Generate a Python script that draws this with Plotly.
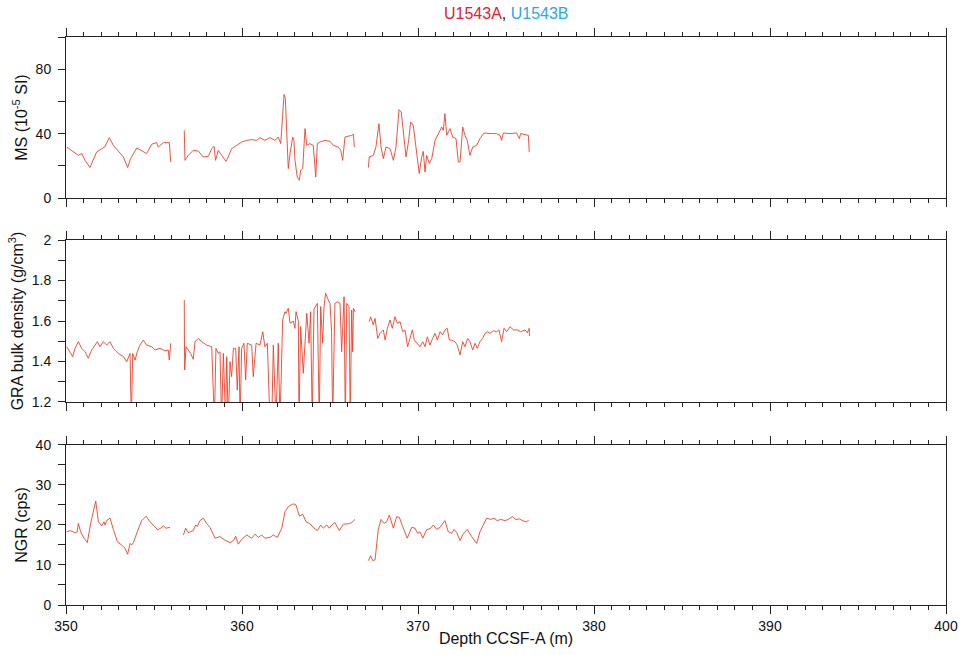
import plotly.graph_objects as go

# ---------------- data (depth in m CCSF-A) ----------------
ms_depth = [350.04, 350.41, 350.7, 350.9, 351.08, 351.36, 351.55, 351.74, 352.03, 352.2, 352.46, 352.69,
            352.97, 353.26, 353.5, 353.67, 354.02, 354.3, 354.58, 354.87, 355.15, 355.24, 355.53, 355.87, 355.95,
            None,
            356.72, 356.76, 356.95, 357.23, 357.52, 357.8, 358.09, 358.28, 358.41, 358.5, 358.65, 358.9, 359.09,
            359.22, 359.41, 359.7, 359.98, 360.27, 360.55, 360.84, 361.02, 361.3, 361.59, 361.88, 362.06, 362.2,
            362.31, 362.39, 362.46, 362.54, 362.63, 362.73, 362.88, 362.95, 363.01, 363.14, 363.26, 363.33,
            363.45, 363.52, 363.58, 363.68, 363.86, 364.05, 364.19, 364.28, 364.43, 364.72, 365.0, 365.19,
            365.47, 365.61, 365.72, 365.85, 366.04, 366.23, 366.33, 366.38,
            None,
            367.18, 367.23, 367.46, 367.61, 367.78, 367.9, 368.03, 368.18, 368.41, 368.6, 368.75, 368.92, 369.05,
            369.17, 369.32, 369.47, 369.58, 369.73, 369.89, 370.07, 370.21, 370.3, 370.4, 370.49, 370.64, 370.78,
            370.97, 371.15, 371.35, 371.44, 371.53, 371.63, 371.82, 371.97, 372.16, 372.29, 372.39, 372.54,
            372.67, 372.8, 372.95, 373.11, 373.33, 373.52, 373.75, 374.09, 374.47, 374.66, 374.75, 374.85,
            375.23, 375.6, 375.76, 375.83, 376.08, 376.27, 376.32]
ms_value = [31.7, 28.6, 26.5, 27.6, 23.4, 18.9, 23.4, 28.6, 30.7, 31.7, 37.5, 32.7,
            29.2, 25.5, 18.9, 24.5, 31.1, 29.6, 27.6, 33.4, 34.4, 31.7, 34.4, 34.4, 22.4,
            None,
            42.0, 23.4, 26.5, 29.6, 29.2, 25.5, 25.9, 30.7, 32.1, 23.4, 29.6, 25.9, 22.8,
            25.5, 30.7, 32.7, 34.8, 35.8, 36.3, 35.8, 37.5, 35.8, 37.5, 35.8, 37.9, 33.8,
            54.5, 64.4, 62.0, 45.0, 18.3, 27.6, 37.9, 35.8, 23.4, 13.0, 11.0, 17.2,
            18.3, 31.7, 43.1, 32.7, 33.8, 32.7, 13.0, 33.8, 34.8, 35.8, 35.2, 32.7,
            31.7, 29.6, 23.4, 37.9, 38.3, 38.9, 39.6, 31.7,
            None,
            18.9, 25.5, 26.5, 31.7, 46.2, 31.7, 24.5, 31.7, 30.7, 23.4, 31.7, 54.9, 53.4,
            40.0, 25.5, 35.8, 47.2, 45.2, 29.6, 15.2, 25.5, 29.0, 16.1, 26.5, 21.4, 24.5,
            35.8, 40.0, 44.1, 42.0, 52.4, 38.9, 43.1, 37.9, 36.9, 22.4, 22.4, 44.1,
            38.9, 35.8, 26.5, 31.7, 32.7, 36.9, 40.4, 40.0, 40.0, 38.9, 35.8, 40.4,
            40.0, 40.4, 36.9, 40.0, 39.6, 38.9, 28.6]

gra_depth = [350.04, 350.23, 350.38, 350.51, 350.7, 350.89, 351.08, 351.27, 351.46, 351.65, 351.78, 351.93,
             352.12, 352.31, 352.5, 352.69, 352.97, 353.26, 353.45, 353.64, 353.71, 353.79, 353.92, 354.05,
             354.2, 354.39, 354.58, 354.87, 355.06, 355.34, 355.63, 355.81, 355.87, 355.95,
             None,
             356.72, 356.74, 356.82, 356.95, 357.08, 357.23, 357.33, 357.52, 357.71, 357.99, 358.28, 358.43,
             358.52, 358.65, 358.75, 358.84, 358.94, 359.07, 359.13, 359.22, 359.32, 359.41, 359.51, 359.64,
             359.73, 359.83, 359.89, 359.98, 360.11, 360.21, 360.3, 360.55, 360.64, 360.8, 361.02, 361.18,
             361.3, 361.44, 361.59, 361.69, 361.78, 361.93, 362.06, 362.16, 362.26, 362.31, 362.44, 362.5,
             362.63, 362.73, 362.91, 363.01, 363.07, 363.2, 363.24, 363.33, 363.48, 363.58, 363.68, 363.81,
             363.9, 363.99, 364.09, 364.28, 364.39, 364.47, 364.58, 364.66, 364.75, 364.9, 365.0, 365.09,
             365.15, 365.28, 365.42, 365.57, 365.66, 365.8, 365.87, 365.95, 366.08, 366.15, 366.23, 366.29,
             366.33, 366.42,
             None,
             367.23, 367.31, 367.46, 367.56, 367.71, 367.84, 368.03, 368.13, 368.26, 368.41, 368.54, 368.69,
             368.83, 368.98, 369.13, 369.26, 369.41, 369.55, 369.68, 369.79, 369.96, 370.11, 370.27, 370.4,
             370.53, 370.68, 370.83, 370.97, 371.1, 371.25, 371.4, 371.53, 371.66, 371.78, 371.91, 372.1,
             372.23, 372.39, 372.54, 372.67, 372.82, 372.95, 373.11, 373.24, 373.37, 373.52, 373.67, 373.81,
             373.94, 374.09, 374.28, 374.47, 374.6, 374.75, 374.89, 375.04, 375.23, 375.42, 375.65, 375.83,
             376.08, 376.21, 376.32, 376.33]
gra_value = [1.473, 1.448, 1.424, 1.465, 1.498, 1.465, 1.448, 1.416, 1.457, 1.481, 1.498, 1.473,
             1.498, 1.481, 1.498, 1.465, 1.44, 1.424, 1.399, 1.44, 1.1, 1.44, 1.407, 1.448,
             1.481, 1.506, 1.481, 1.473, 1.457, 1.465, 1.452, 1.457, 1.407, 1.49,
             None,
             1.704, 1.358, 1.473, 1.457, 1.44, 1.411, 1.498, 1.514, 1.498, 1.481, 1.473, 1.1,
             1.465, 1.44, 1.448, 1.1, 1.44, 1.1, 1.424, 1.1, 1.399, 1.325, 1.465, 1.465,
             1.259, 1.473, 1.1, 1.465, 1.49, 1.309, 1.49, 1.481, 1.325, 1.49, 1.481, 1.547,
             1.473, 1.49, 1.1, 1.1, 1.481, 1.1, 1.49, 1.1, 1.49, 1.605, 1.646, 1.638,
             1.663, 1.589, 1.6, 1.564, 1.646, 1.6, 1.1, 1.572, 1.342, 1.473, 1.638, 1.49,
             1.646, 1.1, 1.658, 1.687, 1.1, 1.671, 1.49, 1.671, 1.737, 1.704, 1.687, 1.547,
             1.1, 1.687, 1.695, 1.687, 1.448, 1.72, 1.1, 1.687, 1.671, 1.1, 1.654, 1.448,
             1.663, 1.646,
             None,
             1.597, 1.621, 1.58, 1.613, 1.514, 1.539, 1.556, 1.506, 1.564, 1.605, 1.564, 1.621,
             1.589, 1.597, 1.547, 1.556, 1.473, 1.514, 1.556, 1.506, 1.49, 1.473, 1.498, 1.473,
             1.522, 1.481, 1.514, 1.539, 1.506, 1.547, 1.531, 1.556, 1.564, 1.506, 1.506, 1.498,
             1.481, 1.432, 1.498, 1.473, 1.514, 1.498, 1.457, 1.49, 1.465, 1.498, 1.514, 1.539,
             1.547, 1.539, 1.552, 1.547, 1.556, 1.498, 1.564, 1.547, 1.572, 1.556, 1.556, 1.547,
             1.556, 1.542, 1.564, 1.526]

ngr_depth = [350.04, 350.23, 350.51, 350.64, 350.7, 350.83, 351.02, 351.21, 351.4, 351.55, 351.69, 351.84,
             352.03, 352.16, 352.22, 352.31, 352.5, 352.69, 352.92, 353.16, 353.35, 353.5, 353.64, 353.73,
             353.83, 354.05, 354.3, 354.55, 354.77, 355.0, 355.21, 355.38, 355.53, 355.68, 355.91,
             None,
             356.67, 356.8, 356.95, 357.23, 357.37, 357.46, 357.61, 357.8, 357.99, 358.18, 358.47, 358.75,
             359.03, 359.32, 359.51, 359.64, 359.79, 359.98, 360.27, 360.55, 360.74, 360.93, 361.12, 361.3,
             361.59, 361.78, 362.01, 362.26, 362.44, 362.63, 362.91, 363.07, 363.26, 363.45, 363.64, 363.86,
             364.05, 364.28, 364.47, 364.62, 364.81, 364.96, 365.1, 365.28, 365.53, 365.76, 366.04, 366.23,
             366.42,
             None,
             367.18, 367.31, 367.43, 367.56, 367.74, 367.9, 368.07, 368.22, 368.37, 368.6, 368.79, 368.94,
             369.13, 369.39, 369.64, 369.83, 369.98, 370.11, 370.27, 370.49, 370.72, 370.87, 371.06, 371.25,
             371.53, 371.72, 371.91, 372.05, 372.2, 372.39, 372.58, 372.8, 373.05, 373.33, 373.52, 373.75,
             373.9, 374.13, 374.32, 374.5, 374.7, 374.94, 375.13, 375.36, 375.55, 375.76, 375.98, 376.17,
             376.29]
ngr_value = [18.3, 18.6, 18.1, 18.3, 20.4, 18.3, 16.7, 15.6, 20.4, 23.8, 26.0, 20.8,
             19.8, 20.8, 20.0, 21.1, 21.7, 18.9, 15.8, 15.0, 14.2, 12.7, 15.4, 15.0,
             15.6, 18.3, 21.1, 22.2, 20.8, 19.8, 18.8, 19.2, 19.8, 19.2, 19.4,
             None,
             17.5, 19.2, 18.1, 18.6, 20.0, 19.6, 21.1, 21.7, 20.4, 19.4, 16.7, 17.1,
             16.2, 15.6, 16.1, 17.2, 15.2, 16.4, 17.5, 16.7, 17.7, 16.9, 17.5, 16.7,
             16.9, 17.5, 16.9, 19.2, 23.3, 24.6, 25.3, 25.0, 22.2, 22.7, 20.8, 20.3,
             19.4, 18.6, 20.0, 19.2, 20.0, 19.2, 20.0, 20.6, 18.6, 20.2, 20.3, 20.6,
             21.4,
             None,
             11.1, 12.3, 11.1, 11.3, 18.8, 21.4, 20.4, 20.8, 22.5, 19.2, 22.1, 21.9,
             19.6, 16.7, 19.4, 19.2, 17.9, 18.3, 16.7, 18.8, 19.2, 20.0, 18.9, 19.4,
             21.1, 18.3, 17.9, 18.9, 18.1, 16.1, 17.9, 18.9, 17.1, 15.4, 18.3, 20.4,
             21.7, 21.4, 21.7, 21.1, 21.4, 21.1, 21.4, 22.1, 21.4, 21.5, 21.0, 20.8,
             21.2]

x_range = [350, 400]
ms_range = [0, 100]
gra_range = [1.2, 2.0]
ngr_range = [0, 40]

# ---------------- style ----------------
LINE = "#e8432e"
AX = "#222222"
FONT = "Liberation Sans, Arial, Helvetica, sans-serif"
TICK_SIZE = 14
TITLE_SIZE = 16

fig = go.Figure()
fig.add_trace(go.Scatter(x=ms_depth, y=ms_value, mode="lines", xaxis="x", yaxis="y",
                         line=dict(color=LINE, width=0.9), connectgaps=False, showlegend=False))
fig.add_trace(go.Scatter(x=gra_depth, y=gra_value, mode="lines", xaxis="x2", yaxis="y2",
                         line=dict(color=LINE, width=0.9), connectgaps=False, showlegend=False))
fig.add_trace(go.Scatter(x=ngr_depth, y=ngr_value, mode="lines", xaxis="x3", yaxis="y3",
                         line=dict(color=LINE, width=0.9), connectgaps=False, showlegend=False))

def xax(anchor, labels, title=None):
    d = dict(domain=[0, 1], anchor=anchor, range=x_range, tick0=350, dtick=10,
             ticks="outside", ticklen=8, tickwidth=1, tickcolor=AX,
             showline=True, linecolor=AX, linewidth=1, mirror="allticks",
             showgrid=False, zeroline=False, showticklabels=labels,
             minor=dict(dtick=1, ticks="outside", ticklen=4, tickwidth=1, tickcolor=AX, showgrid=False),
             tickfont=dict(family=FONT, size=TICK_SIZE, color="#111"))
    if title:
        d["title"] = dict(text=title, font=dict(family=FONT, size=TITLE_SIZE, color="#111"), standoff=0)
    return d

def yax(domain, rng, t0, dt, mdt, title):
    return dict(domain=domain, range=rng, tick0=t0, dtick=dt,
                ticks="outside", ticklen=7, tickwidth=1, tickcolor=AX,
                minor=dict(tick0=t0, dtick=mdt, ticks="outside", ticklen=7, tickwidth=1, tickcolor=AX, showgrid=False),
                showline=True, linecolor=AX, linewidth=1, mirror=True,
                showgrid=False, zeroline=False, ticklabelstandoff=4,
                tickfont=dict(family=FONT, size=TICK_SIZE, color="#111"),
                title=dict(text=title, font=dict(family=FONT, size=TITLE_SIZE, color="#111"), standoff=4))

fig.update_layout(
    width=965, height=655,
    margin=dict(l=66, r=19, t=37, b=50, autoexpand=False),
    paper_bgcolor="white", plot_bgcolor="white",
    font=dict(family=FONT, color="#111"),
    xaxis=xax("y", False),
    xaxis2=xax("y2", False),
    xaxis3=xax("y3", True, "Depth CCSF-A (m)"),
    yaxis=yax([0.7165, 1.0], ms_range, 0, 40, 20, "MS (10<sup>-5</sup> SI)"),
    yaxis2=yax([0.3574, 0.6426], gra_range, 1.2, 0.2, 0.1, "GRA bulk density (g/cm<sup>3</sup>)"),
    yaxis3=yax([0.0, 0.2817], ngr_range, 0, 10, 5, "NGR (cps)"),
    annotations=[dict(
        text='<span style="color:#e5202e">U1543A</span>, <span style="color:#29a9e0">U1543B</span>',
        xref="paper", yref="paper", x=0.5, y=1.042, xanchor="center", yanchor="middle",
        showarrow=False, font=dict(family=FONT, size=TITLE_SIZE, color="#111"))],
)

fig.write_html("out.html", config={"displayModeBar": False},
               post_script="document.body.style.margin='0';document.body.style.padding='0';")
